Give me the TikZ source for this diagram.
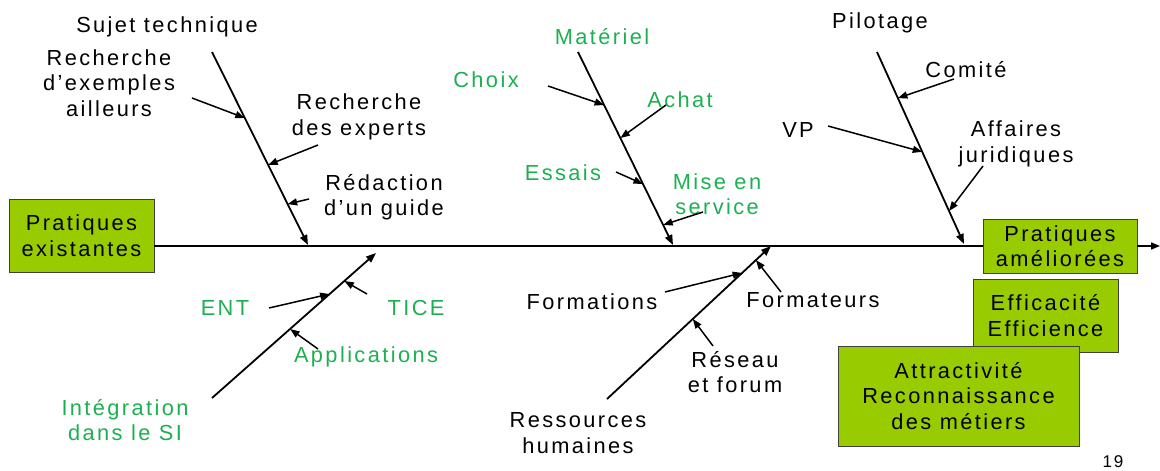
\documentclass[tikz,border=0pt]{standalone}
\usepackage{fontspec}
\setmainfont{Liberation Sans}[LetterSpace=11]
\usetikzlibrary{arrows.meta,calc}
\definecolor{boxgreen}{HTML}{99CC00}
\definecolor{labgreen}{RGB}{28,176,80}

\begin{document}
\begin{tikzpicture}[x=1pt,y=-1pt,
  lab/.style={font=\fontsize{21.8}{25.5}\selectfont, align=center, inner sep=0pt},
  glab/.style={lab, text=labgreen},
  box/.style={lab, draw=black!75, fill=boxgreen, line width=0.8pt, anchor=center},
  spine/.style={line width=1.6pt},
  bone/.style={line width=1.8pt, -{Triangle[length=10pt,width=7.5pt]}},
  twig/.style={line width=1.5pt, -{Triangle[length=9.5pt,width=7pt]}}
]
\useasboundingbox (0,0) rectangle (1160,471);

% result boxes
\node[box, minimum width=145pt, minimum height=73pt] (exist) at (81.5,235.5) {Pratiques\\existantes};
\node[box, minimum width=154pt, minimum height=54pt] (ameli) at (1060,246) {Pratiques\\améliorées};
\node[box, minimum width=145pt, minimum height=73pt] (effic) at (1045.5,315.5) {Efficacité\\Efficience};
\node[box, minimum width=241pt, minimum height=100pt] (attra) at (958.5,396) {Attractivité\\Reconnaissance\\des métiers};

% main spine
\coordinate (head) at (1160,246);
\draw[spine] (exist.east |- 0,246) -- (ameli.west);
\draw[spine, -{Triangle[length=9pt,width=7pt]}] (ameli.east) -- (head);

% bone 1 : Sujet technique
\coordinate (s1) at (212,52);
\coordinate (e1) at (308,245);
\node[lab] (sujet) at (167,27) {Sujet technique};
\draw[bone] (s1) -- (e1);
\node[lab] (rexe) at (109,83) {Recherche\\d’exemples\\ailleurs};
\node[lab] (rexp) at (359,117) {Recherche\\des experts};
\node[lab] (redac) at (384,197) {Rédaction\\d’un guide};
\coordinate (f11) at (192,98);
\coordinate (f12) at (318,145);
\coordinate (f13) at (309,199);
\coordinate (p11) at ($(s1)!0.342!(e1)$);
\coordinate (p12) at ($(s1)!0.585!(e1)$);
\coordinate (p13) at ($(s1)!0.788!(e1)$);
\draw[twig] (f11) -- (p11);
\draw[twig] (f12) -- (p12);
\draw[twig] (f13) -- (p13);

% bone 2 : Matériel
\coordinate (s2) at (578,52);
\coordinate (e2) at (673,245);
\node[glab] (mat) at (602,37) {Matériel};
\draw[bone] (s2) -- (e2);
\node[glab] (choix) at (486,80) {Choix};
\node[glab] (achat) at (680,100) {Achat};
\node[glab] (essais) at (563,173) {Essais};
\node[glab] (mise) at (717,194) {Mise en\\service};
\coordinate (f21) at (548,86);
\coordinate (f22) at (666,105);
\coordinate (f23) at (616,172);
\coordinate (f24) at (703,212);
\coordinate (p21) at ($(s2)!0.275!(e2)$);
\coordinate (p22) at ($(s2)!0.446!(e2)$);
\coordinate (p23) at ($(s2)!0.684!(e2)$);
\coordinate (p24) at ($(s2)!0.896!(e2)$);
\draw[twig] (f21) -- (p21);
\draw[twig] (f22) -- (p22);
\draw[twig] (f23) -- (p23);
\draw[twig] (f24) -- (p24);

% bone 3 : Pilotage
\coordinate (s3) at (877,52);
\coordinate (e3) at (964,244);
\node[lab] (pilot) at (880,23) {Pilotage};
\draw[bone] (s3) -- (e3);
\node[lab] (comite) at (966,70) {Comité};
\node[lab] (vp) at (798,130) {VP};
\node[lab] (affj) at (1016,144) {Affaires\\juridiques};
\coordinate (f31) at (954,79);
\coordinate (f32) at (828,126);
\coordinate (f33) at (983,166);
\coordinate (p31) at ($(s3)!0.24!(e3)$);
\coordinate (p32) at ($(s3)!0.52!(e3)$);
\coordinate (p33) at ($(s3)!0.828!(e3)$);
\draw[twig] (f31) -- (p31);
\draw[twig] (f32) -- (p32);
\draw[twig] (f33) -- (p33);

% bone 4 : Intégration dans le SI
\coordinate (s4) at (212,398);
\coordinate (e4) at (376,253);
\node[glab] (integ) at (125,420) {Intégration\\dans le SI};
\draw[bone] (s4) -- (e4);
\node[glab] (ent) at (225,308) {ENT};
\node[glab] (tice) at (416,308) {TICE};
\node[glab] (appli) at (366,357) {Applications};
\coordinate (f41) at (269,308);
\coordinate (f42) at (367,294);
\coordinate (f43) at (318,349);
\coordinate (p41) at ($(s4)!0.717!(e4)$);
\coordinate (p42) at ($(s4)!0.807!(e4)$);
\coordinate (p43) at ($(s4)!0.476!(e4)$);
\draw[twig] (f41) -- (p41);
\draw[twig] (f42) -- (p42);
\draw[twig] (f43) -- (p43);

% bone 5 : Ressources humaines
\coordinate (s5) at (607,399);
\coordinate (e5) at (771,246);
\node[lab] (rh) at (578,433) {Ressources\\humaines};
\draw[bone] (s5) -- (e5);
\node[lab] (form) at (592,302) {Formations};
\node[lab] (formr) at (813,300) {Formateurs};
\node[lab] (reseau) at (735,372) {Réseau\\et forum};
\coordinate (f51) at (665,292);
\coordinate (f52) at (781,292);
\coordinate (f53) at (713,346);
\coordinate (p51) at ($(s5)!0.824!(e5)$);
\coordinate (p52) at ($(s5)!0.908!(e5)$);
\coordinate (p53) at ($(s5)!0.523!(e5)$);
\draw[twig] (f51) -- (p51);
\draw[twig] (f52) -- (p52);
\draw[twig] (f53) -- (p53);

% page number
\node[lab, font=\fontsize{17}{19}\selectfont] (page) at (1113,462) {19};
\end{tikzpicture}
\end{document}
